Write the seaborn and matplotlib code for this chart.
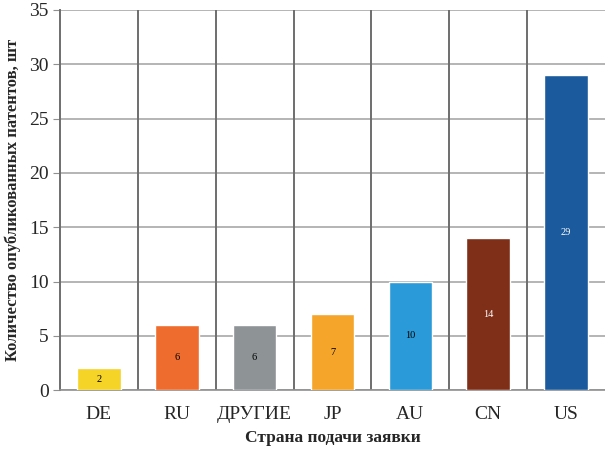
import matplotlib
matplotlib.use("Agg")
import matplotlib.pyplot as plt
import seaborn as sns
import pandas as pd
import numpy as np

countries = ["DE", "RU", "ДРУГИЕ", "JP", "AU", "CN", "US"]
patents = [2, 6, 6, 7, 10, 14, 29]
colors = ["#F5D327", "#EE6C2E", "#8E9496", "#F5A52A", "#2A9BD8", "#7F2E17", "#1B5A9C"]
label_colors = ["black", "black", "black", "black", "black", "white", "white"]

sns.set_style("white")
plt.rcParams["font.family"] = ["Liberation Serif", "DejaVu Serif"]

df = pd.DataFrame({"country": countries, "count": patents})

fig = plt.figure(figsize=(6.05, 4.5), dpi=100)
ax = fig.add_axes([0.099, 0.133, 0.901, 0.845])

sns.barplot(data=df, x="country", y="count", hue="country", palette=colors,
            width=0.56, legend=False, ax=ax, saturation=1, zorder=3)

ax.set_ylim(0, 35)
ax.set_xlim(-0.5, len(countries) - 0.5)
ax.set_yticks(np.arange(0, 36, 5))
ax.yaxis.grid(True, color="#a8a8a8", linewidth=1.2, zorder=0)
ax.set_axisbelow(True)
for b in np.arange(0.5, len(countries) - 0.5, 1):
    ax.axvline(b, color="#6e6e6e", linewidth=1.4, zorder=1)

for i, (v, c) in enumerate(zip(patents, label_colors)):
    ax.text(i, v / 2, str(v), ha="center", va="center", fontsize=7.5,
            color=c, zorder=4)

for s in ["top", "right"]:
    ax.spines[s].set_visible(False)
ax.spines["left"].set_color("#6e6e6e")
ax.spines["left"].set_linewidth(1.4)
ax.spines["bottom"].set_color("#909090")
ax.spines["bottom"].set_linewidth(1.2)
ax.tick_params(axis="y", which="both", left=True, length=5, color="#909090",
               labelsize=14, pad=3)
ax.tick_params(axis="x", bottom=False, labelsize=14, pad=8)

ax.set_xlabel("Страна подачи заявки", fontsize=12.5, fontweight="bold", labelpad=5)
ax.set_ylabel("Количество опубликованных патентов, шт", fontsize=12,
              fontweight="bold", labelpad=6)

fig.savefig("out.png", dpi=100)
